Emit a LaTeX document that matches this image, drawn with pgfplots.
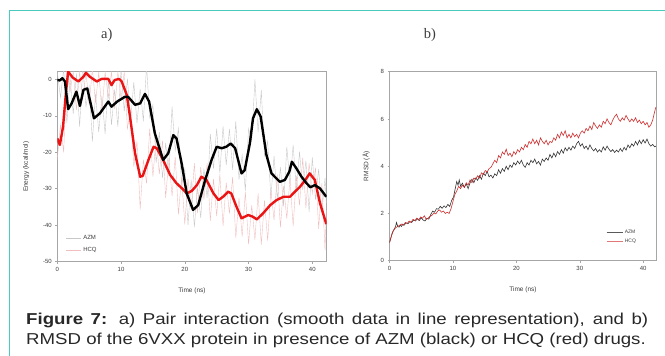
\documentclass[border=0pt]{standalone}
\usepackage{pgfplots}
\pgfplotsset{compat=1.18}
\usepackage{fontspec}
\setmainfont{Liberation Sans}
\newfontfamily\seriffont{Liberation Serif}
\newfontfamily\capfont[FakeStretch=1.18]{Liberation Sans}
\definecolor{frame}{RGB}{72,202,190}
\definecolor{rawgray}{RGB}{200,200,200}
\definecolor{rawpink}{RGB}{240,190,190}
\definecolor{hcqred}{RGB}{235,20,20}
\definecolor{rmsdred}{RGB}{205,45,45}
\definecolor{legred}{RGB}{225,120,120}
\definecolor{leggray}{RGB}{90,90,90}
\definecolor{txt}{RGB}{60,60,60}
\definecolor{captxt}{RGB}{40,40,40}
\begin{document}
\begin{tikzpicture}
\path[use as bounding box] (0,0) rectangle (665pt,-356pt);
\draw[frame, line width=1.1pt] (9.3pt,-356pt) -- (9.3pt,-10.7pt) -- (666pt,-10.7pt);
\node[font=\seriffont\fontsize{14.5}{16}\selectfont, text=txt] at (106.7pt,-35pt) {a)};
\node[font=\seriffont\fontsize{14.5}{16}\selectfont, text=txt] at (430pt,-35pt) {b)};

\pgfplotsset{
  every axis/.append style={
    scale only axis,
    axis line style={gray!70, line width=0.6pt},
    tick style={gray!70, line width=0.5pt},
    tick align=outside, tick pos=left,
    major tick length=2pt,
    ticklabel style={font=\fontsize{6}{7}\selectfont, text=txt},
    label style={font=\fontsize{6.5}{8}\selectfont, text=txt},
    /pgf/number format/assume math mode=true,
    xlabel shift=9pt,
    clip=true,
  }
}

\begin{axis}[
  at={(57.3pt,-71.7pt)}, anchor=north west,
  width=269.4pt, height=190pt,
  xmin=0, xmax=42.26, ymin=-50, ymax=2.08,
  xtick={0,10,20,30,40}, ytick={-50,-40,-30,-20,-10,0},
  xlabel={Time (ns)}, ylabel={Energy (kcal/mol)},
  ylabel shift=7pt,
  legend style={at={(0.02,0.025)}, anchor=south west, draw=none, fill=none,
    font=\fontsize{6}{7}\selectfont, text=txt, row sep=2pt},
  legend cell align=left,
  legend image code/.code={\draw[#1] (0pt,0pt) -- (15pt,0pt);},
]
\addplot[rawgray, line width=0.4pt] coordinates {
(0,2) (0.5,-5) (1,3) (1.5,-12) (2,0.5) (2.5,-9.5) (3,1.6) (3.5,-13) (4,3) (4.5,-7.5)
(5,-2) (5.5,-17) (6,-4) (6.5,-14.5) (7,-4.5) (7.5,-15) (8,-0.1) (8.5,-12.5) (9,-2.8) (9.5,-13)
(10,2.7) (10.5,-8.8) (11,0.2) (11.5,-11.5) (12,-0.8) (12.5,-12) (13,-2.6) (13.5,-11.5) (14,3.8) (14.5,-10.5)
(15,-7) (15.5,-23) (16,-14.5) (16.5,-27) (17,-17.5) (17.5,-26.5) (18,-7.5) (18.5,-19.5) (19,-13.5) (19.5,-29)
(20,-24.5) (20.5,-40) (21,-27.5) (21.5,-40.5) (22,-29.7) (22.5,-38) (23,-24.5) (23.5,-32.5) (24,-15) (24.5,-24.5)
(25,-13.5) (25.5,-25.7) (26,-12.9) (26.5,-23.5) (27,-13.6) (27.5,-24.8) (28,-11.5) (28.5,-27.5) (29,-20.8) (29.5,-30.5)
(30,-13.5) (30.5,-17) (31,0) (31.5,-14.5) (32,-3) (32.5,-21) (33,-17) (33.5,-32.5) (34,-21) (34.5,-32.8)
(35,-24.1) (35.5,-34.8) (36,-18.5) (36.5,-28.5) (37,-18) (37.5,-30.4) (38,-19.8) (38.5,-30.3) (39,-22.3) (39.5,-36.4)
(40,-21.4) (40.5,-33) (41,-24.6) (41.5,-36.4) (42,-27) (42.2,-34)
};
\addlegendentry{AZM}
\addplot[rawpink, line width=0.4pt] coordinates {
(0,-22) (0.5,-12.5) (1,-20) (1.5,2.5) (2,-3.5) (2.5,2) (3,-8.4) (3.5,2) (4,-5.4) (4.5,2)
(5,-7.1) (5.5,3) (6,-6.5) (6.5,2) (7,-8.9) (7.5,2) (8,-5) (8.5,2) (9,-8.2) (9.5,2)
(10,-5.3) (10.5,2) (11,-13.5) (11.5,-8.5) (12,-24) (12.5,-17) (13,-35.7) (13.5,-22) (14,-28.5) (14.5,-13.5)
(15,-26.7) (15.5,-15.7) (16,-26) (16.5,-16.8) (17,-32.5) (17.5,-21.6) (18,-32) (18.5,-21.2) (19,-37) (19.5,-26.8)
(20,-39.8) (20.5,-27.3) (21,-35.7) (21.5,-23) (22,-36.6) (22.5,-24) (23,-33) (23.5,-23) (24,-38.8) (24.5,-27.3)
(25,-37.5) (25.5,-26) (26,-40.2) (26.5,-28.3) (27,-36.8) (27.5,-26.8) (28,-43.5) (28.5,-32.5) (29,-43.1) (29.5,-30.8)
(30,-45.2) (30.5,-34.5) (31,-44) (31.5,-31.3) (32,-45.3) (32.5,-33.2) (33,-44.2) (33.5,-30.4) (34,-38.6) (34.5,-26)
(35,-40.6) (35.5,-29.2) (36,-38.2) (36.5,-27.2) (37,-40.3) (37.5,-26.5) (38,-34.5) (38.5,-21.5) (39,-35.3) (39.5,-23)
(40,-31.3) (40.5,-24.2) (41,-41) (41.5,-28.5) (42,-46.8) (42.2,-36)
};
\addlegendentry{HCQ}
\addplot[hcqred, line width=2.4pt, line join=round, forget plot] coordinates {
(0,-16.2) (0.4,-18.0) (0.9,-13.0) (1.35,-3.8) (1.7,2.1) (2.4,0.5) (3.3,-0.6) (4.1,0.7) (4.5,1.8)
(5.1,0.7) (6.2,-0.6) (6.95,0.1) (8.0,0.1) (8.5,-1.6) (9.0,-0.2) (9.7,0.1) (10.1,-0.6) (10.9,-4.3)
(11.4,-10.2) (12.2,-20.3) (13.0,-26.7) (13.4,-26.5) (14.3,-22.1) (15.1,-18.5) (15.6,-18.9) (16.6,-22.1)
(17.7,-26.2) (18.7,-28.5) (19.8,-30.3) (20.3,-31.3) (21.1,-30.6) (21.9,-29.0) (22.6,-26.7) (23.4,-27.6)
(24.5,-31.3) (25.3,-33.1) (26.0,-32.2) (26.8,-30.8) (27.3,-31.3) (28.1,-34.9) (28.9,-38.1) (29.96,-37.2)
(30.7,-37.7) (31.3,-38.4) (32.3,-36.7) (33.4,-34.5) (34.4,-33.1) (35.5,-32.2) (36.5,-32.2) (37.0,-31.3)
(38.1,-29.4) (38.9,-27.6) (39.6,-25.8) (40.4,-27.6) (41.2,-33.9) (42.2,-39.7)
};
\addplot[black, line width=2.4pt, line join=round, forget plot] coordinates {
(0,-0.2) (0.4,-0.3) (0.8,0.3) (1.2,-0.6) (1.7,-8.2) (2.25,-6.6) (3.0,-3.4) (3.55,-7.3) (4.1,-2.9) (4.7,-2.5)
(5.75,-10.7) (6.7,-9.3) (8.0,-6.1) (8.5,-7.5) (9.4,-6.1) (10.6,-4.8) (11.1,-4.8) (12.2,-7.0) (13.0,-6.6)
(13.75,-4.0) (14.4,-6.1) (15.3,-14.8) (16.6,-22.1) (17.4,-20.3) (18.2,-15.3) (18.7,-16.2) (19.5,-23.0)
(20.3,-31.3) (21.3,-35.8) (22.1,-34.5) (23.2,-27.6) (24.2,-22.1) (25.0,-18.5) (25.8,-18.9) (26.5,-18.5)
(27.2,-17.6) (27.9,-18.9) (28.9,-25.8) (29.4,-24.9) (30.2,-17.6) (30.7,-10.7) (31.3,-8.2) (31.9,-10.2)
(32.8,-20.7) (33.6,-25.8) (34.9,-28.1) (35.7,-27.6) (36.4,-25.3) (36.8,-22.6) (37.5,-24.4) (38.3,-26.7)
(39.1,-28.5) (39.7,-29.6) (40.4,-29.0) (41.2,-29.9) (42.2,-32.2)
};
\end{axis}

\begin{axis}[
  at={(389.5pt,-71.7pt)}, anchor=north west,
  width=267pt, height=189pt,
  xmin=0, xmax=42.1, ymin=0, ymax=8,
  xtick={0,10,20,30,40}, ytick={0,2,4,6,8},
  xlabel={Time (ns)}, ylabel={RMSD (\AA)},
  ylabel shift=4pt,
  legend style={at={(0.8,0.065)}, anchor=south west, draw=none, fill=none,
    font=\fontsize{5}{6}\selectfont, text=txt, row sep=0pt},
  legend cell align=left,
  legend image code/.code={\draw[#1] (0pt,0pt) -- (16pt,0pt);},
]
\addlegendimage{leggray, line width=0.5pt}
\addlegendentry{AZM}
\addlegendimage{legred, line width=0.5pt}
\addlegendentry{HCQ}
\addplot[black!80, line width=0.6pt, forget plot] coordinates {
(0,0.76) (0.2,0.95) (0.4,1.15) (0.6,1.28) (0.8,1.35) (1.0,1.5) (1.1,1.62) (1.3,1.45) (1.5,1.42) (1.7,1.5)
(1.9,1.45) (2.1,1.55) (2.3,1.5) (2.6,1.6) (2.9,1.56) (3.2,1.65) (3.5,1.62) (3.8,1.72) (4.1,1.68) (4.4,1.78)
(4.7,1.7) (5.0,1.82) (5.3,1.72) (5.6,1.68) (5.9,1.8) (6.2,1.76) (6.5,1.95) (6.8,2.1) (7.1,2.05) (7.4,2.2)
(7.7,2.18) (8.0,2.3) (8.3,2.22) (8.6,2.32) (8.9,2.25) (9.2,2.38) (9.5,2.3) (9.8,2.55) (10.1,2.7) (10.4,3.1)
(10.6,3.35) (10.8,3.2) (11.0,3.42) (11.2,3.15) (11.5,3.28) (11.8,3.1) (12.1,3.25) (12.4,3.05) (12.7,3.3) (13.0,3.45)
(13.3,3.3) (13.6,3.5) (13.9,3.4) (14.2,3.6) (14.5,3.45) (14.8,3.7) (15.1,3.6) (15.4,3.78) (15.7,3.55) (16.0,3.62)
(16.3,3.5) (16.6,3.68) (16.9,3.6) (17.2,3.85) (17.5,3.7) (17.8,3.9) (18.1,3.78) (18.4,4.0) (18.7,3.85) (19.0,4.05)
(19.3,3.95) (19.6,4.15) (19.9,4.05) (20.2,4.22) (20.5,4.1) (20.8,4.25) (21.1,4.05) (21.4,3.95) (21.7,4.15) (22.0,4.05)
(22.3,4.25) (22.6,4.15) (22.9,4.3) (23.2,4.1) (23.5,4.2) (23.8,4.05) (24.1,4.3) (24.4,4.2) (24.7,4.35) (25.0,4.25)
(25.3,4.5) (25.6,4.35) (25.9,4.55) (26.2,4.4) (26.5,4.62) (26.8,4.5) (27.1,4.7) (27.4,4.55) (27.7,4.78) (28.0,4.65)
(28.3,4.8) (28.6,4.68) (28.9,4.85) (29.2,4.75) (29.5,4.95) (29.8,5.05) (30.1,4.85) (30.4,4.95) (30.7,4.75) (31.0,4.85)
(31.3,4.7) (31.6,4.9) (31.9,4.75) (32.2,4.65) (32.5,4.75) (32.8,4.6) (33.1,4.7) (33.4,4.6) (33.7,4.82) (34.0,4.68)
(34.3,4.85) (34.6,4.72) (34.9,4.62) (35.2,4.7) (35.5,4.58) (35.8,4.68) (36.1,4.6) (36.4,4.75) (36.7,4.62) (37.0,4.8)
(37.3,4.68) (37.6,4.9) (37.9,4.78) (38.2,4.95) (38.5,4.85) (38.8,5.05) (39.1,4.9) (39.4,5.1) (39.7,4.95) (40.0,5.12)
(40.3,4.98) (40.6,5.15) (40.9,4.95) (41.2,4.85) (41.5,4.92) (41.8,4.82) (42.0,4.85)
};
\addplot[rmsdred, line width=0.6pt, forget plot] coordinates {
(0,0.76) (0.2,0.95) (0.4,1.12) (0.6,1.25) (0.8,1.35) (1.0,1.4) (1.3,1.45) (1.6,1.5) (1.9,1.55) (2.2,1.5)
(2.5,1.62) (2.8,1.58) (3.1,1.68) (3.4,1.62) (3.7,1.75) (4.0,1.7) (4.3,1.8) (4.6,1.72) (4.9,1.85) (5.2,1.8)
(5.5,1.9) (5.8,1.75) (6.1,1.8) (6.4,1.88) (6.7,1.92) (7.0,2.02) (7.3,1.98) (7.6,2.1) (7.9,2.15) (8.2,2.05)
(8.5,2.1) (8.8,2.0) (9.1,2.05) (9.4,2.0) (9.7,2.2) (10.0,2.5) (10.3,2.8) (10.6,2.95) (10.9,3.15) (11.2,3.05)
(11.5,3.2) (11.8,3.1) (12.1,3.3) (12.4,3.2) (12.7,3.42) (13.0,3.3) (13.3,3.5) (13.6,3.45) (13.9,3.6) (14.2,3.5)
(14.5,3.72) (14.8,3.65) (15.1,3.82) (15.4,3.75) (15.7,3.9) (16.0,3.95) (16.3,4.1) (16.6,4.25) (16.9,4.15) (17.2,4.45)
(17.5,4.35) (17.8,4.6) (18.1,4.5) (18.4,4.72) (18.7,4.45) (19.0,4.55) (19.3,4.4) (19.6,4.62) (19.9,4.5) (20.2,4.7)
(20.5,4.6) (20.8,4.8) (21.1,4.7) (21.4,4.92) (21.7,4.8) (22.0,5.05) (22.3,4.95) (22.6,5.15) (22.9,4.95) (23.2,5.1)
(23.5,4.9) (23.8,5.2) (24.1,5.05) (24.4,4.95) (24.7,5.1) (25.0,4.9) (25.3,5.05) (25.6,5.0) (25.9,5.2) (26.2,5.1)
(26.5,5.35) (26.8,5.2) (27.1,5.45) (27.4,5.3) (27.7,5.5) (28.0,5.2) (28.3,5.35) (28.6,5.2) (28.9,5.4) (29.2,5.25)
(29.5,5.35) (29.8,5.2) (30.1,5.4) (30.4,5.5) (30.7,5.4) (31.0,5.6) (31.3,5.5) (31.6,5.7) (31.9,5.55) (32.2,5.85)
(32.5,5.7) (32.8,5.6) (33.1,5.75) (33.4,5.65) (33.7,5.9) (34.0,5.8) (34.3,6.0) (34.6,5.85) (34.9,5.75) (35.2,5.95)
(35.5,6.1) (35.8,6.2) (36.1,6.0) (36.4,5.9) (36.7,6.05) (37.0,5.95) (37.3,6.15) (37.6,6.0) (37.9,5.88) (38.2,6.0)
(38.5,5.9) (38.8,6.05) (39.1,5.85) (39.4,5.95) (39.7,5.8) (40.0,5.9) (40.3,5.75) (40.6,5.85) (40.9,5.65) (41.2,5.75)
(41.5,5.95) (41.8,6.3) (42.0,6.5)
};
\end{axis}

\node[anchor=north west, inner sep=0pt, text width=622pt, align=justify,
  font=\capfont\fontsize{15.8}{19.5}\selectfont, text=captxt] at (26pt,-313pt)
  {\textbf{Figure 7:} a) Pair interaction (smooth data in line representation), and b)\linebreak RMSD of the 6VXX protein in presence of AZM (black) or HCQ (red) drugs.};
\end{tikzpicture}
\end{document}
